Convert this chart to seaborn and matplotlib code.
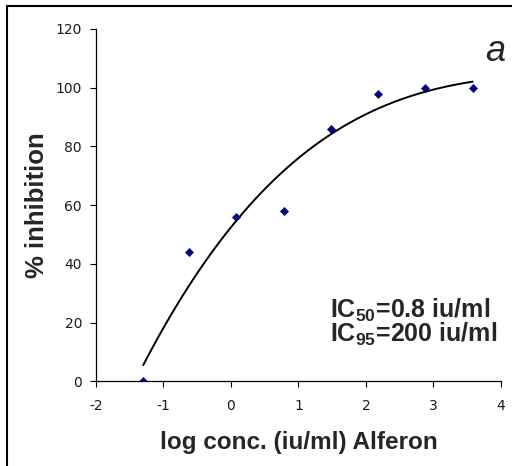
import matplotlib
matplotlib.use("Agg")
import matplotlib.pyplot as plt
from matplotlib.lines import Line2D
import seaborn as sns
import pandas as pd

# values
log_conc = [-1.30, -0.62, 0.07, 0.78, 1.48, 2.18, 2.88, 3.58]
inhibition = [0, 44, 56, 58, 86, 98, 100, 100]

x_ticks = [-2, -1, 0, 1, 2, 3, 4]
y_ticks = [0, 20, 40, 60, 80, 100, 120]

df = pd.DataFrame({"log_conc": log_conc, "inhibition": inhibition})

sns.set_style("white")
plt.rcParams["font.family"] = ["Liberation Sans", "DejaVu Sans"]
plt.rcParams["mathtext.fontset"] = "custom"
plt.rcParams["mathtext.bf"] = "Liberation Sans:bold"
plt.rcParams["mathtext.default"] = "bf"
plt.rcParams["axes.unicode_minus"] = False

fig = plt.figure(figsize=(5.12, 4.66), dpi=100)
ax = fig.add_axes([0.1875, 0.1818, 0.791, 0.756])

# polynomial trend line, like the spreadsheet one
sns.regplot(data=df, x="log_conc", y="inhibition", order=3, ci=None,
            scatter=False, ax=ax, line_kws={"color": "black", "lw": 1.4})
sns.scatterplot(data=df, x="log_conc", y="inhibition", marker="D", s=18,
                color="#000080", edgecolor="#000080", ax=ax, zorder=3)

ax.set_xlim(-2, 4)
ax.set_ylim(0, 120)
ax.set_xticks(x_ticks)
ax.set_yticks(y_ticks)
ax.tick_params(axis="both", direction="out", length=4, width=0.8, color="black",
               labelsize=10, labelcolor="#1a1a1a", bottom=True, left=True, pad=6)
ax.tick_params(axis="x", pad=9)
for lab in ax.get_xticklabels() + ax.get_yticklabels():
    lab.set_fontfamily("DejaVu Sans")

for side in ["top", "right"]:
    ax.spines[side].set_visible(False)
for side in ["left", "bottom"]:
    ax.spines[side].set_color("black")
    ax.spines[side].set_linewidth(0.9)

ax.set_xlabel("log conc. (iu/ml) Alferon", fontsize=17.5, fontweight="bold", labelpad=13)
ax.set_ylabel("% inhibition", fontsize=18.5, fontweight="bold", labelpad=5)

fig.text(0.645, 0.318, r"IC$_{50}$=0.8 iu/ml", fontsize=18, fontweight="bold")
fig.text(0.645, 0.266, r"IC$_{95}$=200 iu/ml", fontsize=18, fontweight="bold")
fig.text(0.968, 0.89, "a", fontsize=26, style="italic", ha="center", va="center")

# outer frame (top and left edges only)
fig.add_artist(Line2D([0.0137, 1.0], [0.987, 0.987], transform=fig.transFigure,
                      color="black", lw=1.5))
fig.add_artist(Line2D([0.0137, 0.0137], [0.0, 0.987], transform=fig.transFigure,
                      color="black", lw=1.5))

fig.savefig("out.png", dpi=100)
